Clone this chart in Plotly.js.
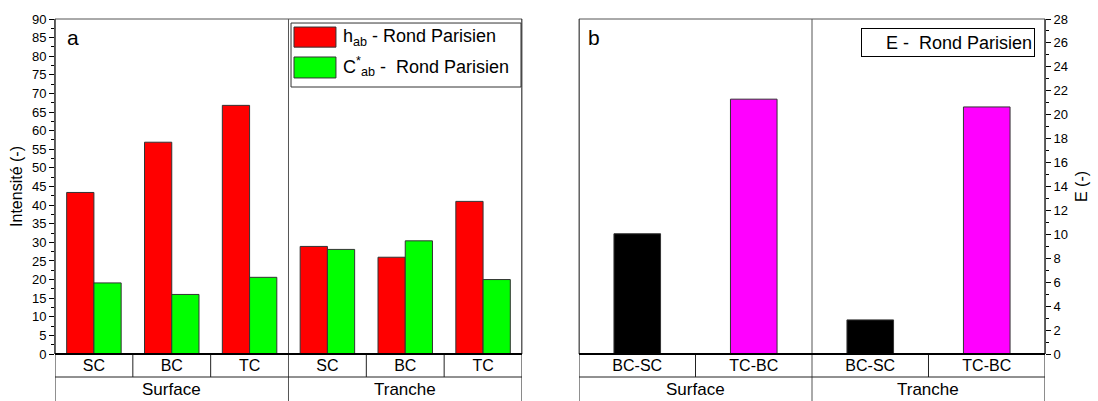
<!DOCTYPE html>
<html>
<head>
<meta charset="utf-8">
<script src="https://cdn.plot.ly/plotly-3.0.1.min.js"></script>
<style>html,body{margin:0;padding:0;background:#fff;}#chart{width:1098px;height:401px;}</style>
</head>
<body>
<div id="chart"></div>
<script>
// ---- data ----
const groups = ['Surface', 'Tranche'];
const samples = ['SC', 'BC', 'TC'];
const hSurface = [43.4, 56.9, 66.8];
const hTranche = [28.9, 26.0, 41.0];
const cSurface = [19.1, 16.0, 20.6];
const cTranche = [28.1, 30.4, 20.0];
const diffLabels = ['BC-SC', 'TC-BC'];
const eSurface = [10.05, 21.3];
const eTranche = [2.85, 20.65];
const diffColors = ['#000000', '#ff00ff'];
const seriesNames = ['h<sub>ab</sub> - Rond Parisien', 'C<sup>*</sup><sub>ab</sub> -\u00a0 Rond Parisien'];
const seriesColors = ['#ff0000', '#00ff00'];
const eName = 'E -\u00a0 Rond Parisien';

// ---- build positions ----
const leftX = [], leftText = [];
groups.forEach((g, gi) => samples.forEach((s, si) => { leftX.push(gi * samples.length + si); leftText.push(s); }));
const rightX = [], rightText = [], rightColors = [];
groups.forEach((g, gi) => diffLabels.forEach((d, di) => { rightX.push(gi * diffLabels.length + di); rightText.push(d); rightColors.push(diffColors[di]); }));

const FONT = 'Liberation Sans, Arial, sans-serif';
const nL = leftX.length, nR = rightX.length;

const traces = [
  {type: 'bar', name: seriesNames[0], x: leftX, y: hSurface.concat(hTranche),
   marker: {color: seriesColors[0], line: {color: '#333', width: 1}}, xaxis: 'x', yaxis: 'y', hoverinfo: 'y'},
  {type: 'bar', name: seriesNames[1], x: leftX, y: cSurface.concat(cTranche),
   marker: {color: seriesColors[1], line: {color: '#333', width: 1}}, xaxis: 'x', yaxis: 'y', hoverinfo: 'y'},
  {type: 'bar', name: eName, x: rightX, y: eSurface.concat(eTranche), width: 0.4,
   marker: {color: rightColors, line: {color: '#333', width: 1}}, xaxis: 'x2', yaxis: 'y2', hoverinfo: 'y'}
];

const d1 = [0, 0.4717], d2 = [0.5293, 1];
const rowY = -0.0687, botY = -0.15;
const shapes = [];
function line(xref, x0, y0, x1, y1, color, w) {
  shapes.push({type: 'line', xref: xref, yref: 'paper', x0: x0, x1: x1, y0: y0, y1: y1, line: {color: color, width: w}});
}
// frames
shapes.push({type: 'rect', xref: 'paper', yref: 'paper', x0: d1[0], x1: d1[1], y0: 0, y1: 1, line: {color: '#555', width: 1}, layer: 'above'});
shapes.push({type: 'rect', xref: 'paper', yref: 'paper', x0: d2[0], x1: d2[1], y0: 0, y1: 1, line: {color: '#555', width: 1}, layer: 'above'});
// left table
for (let i = 0; i <= nL; i++) {
  const xv = i - 0.5;
  const isGroup = (i % samples.length === 0);
  line('x', xv, isGroup ? 1 : 0, xv, isGroup ? botY : rowY, isGroup && i !== 0 && i !== nL ? '#555' : '#222', 1);
}
line('x', -0.5, rowY, nL - 0.5, rowY, '#222', 1);
line('x', -0.5, 0, nL - 0.5, 0, '#000', 2);
// right table
for (let i = 0; i <= nR; i++) {
  const xv = i - 0.5;
  const isGroup = (i % diffLabels.length === 0);
  line('x2', xv, isGroup ? 1 : 0, xv, isGroup ? botY : rowY, isGroup && i !== 0 && i !== nR ? '#555' : '#222', 1);
}
line('x2', -0.5, rowY, nR - 0.5, rowY, '#222', 1);
line('x2', -0.5, 0, nR - 0.5, 0, '#000', 2);

// custom legend (large swatches, as in the reference)
shapes.push({type: 'rect', xref: 'paper', yref: 'paper', x0: 0.2384, x1: 0.4707, y0: 0.797, y1: 0.988, line: {color: '#333', width: 1}, fillcolor: '#fff', layer: 'above'});
const swY = [[0.916, 0.976], [0.824, 0.8866]];
const txtY = [0.946, 0.857];
const annotations = [];
seriesNames.forEach((nm, i) => {
  shapes.push({type: 'rect', xref: 'paper', yref: 'paper', x0: 0.2414, x1: 0.2838, y0: swY[i][0], y1: swY[i][1], line: {color: '#333', width: 1}, fillcolor: seriesColors[i], layer: 'above'});
  annotations.push({xref: 'paper', yref: 'paper', x: 0.2889, y: txtY[i], xanchor: 'left', yanchor: 'middle', text: nm, showarrow: false, font: {family: FONT, size: 18, color: '#000'}});
});

groups.forEach((g, gi) => {
  annotations.push({xref: 'x', yref: 'paper', x: gi * samples.length + (samples.length - 1) / 2, y: -0.107, text: g, showarrow: false, font: {family: FONT, size: 17, color: '#000'}, yanchor: 'middle'});
  annotations.push({xref: 'x2', yref: 'paper', x: gi * diffLabels.length + (diffLabels.length - 1) / 2, y: -0.107, text: g, showarrow: false, font: {family: FONT, size: 17, color: '#000'}, yanchor: 'middle'});
});
annotations.push({xref: 'paper', yref: 'paper', x: 0.01, y: 0.985, xanchor: 'left', yanchor: 'top', text: 'a', showarrow: false, font: {family: FONT, size: 21, color: '#000'}});
annotations.push({xref: 'paper', yref: 'paper', x: 0.536, y: 0.985, xanchor: 'left', yanchor: 'top', text: 'b', showarrow: false, font: {family: FONT, size: 21, color: '#000'}});
annotations.push({xref: 'paper', yref: 'paper', x: 0.99, y: 0.973, xanchor: 'right', yanchor: 'top', text: eName, showarrow: false,
  width: 168, height: 23, align: 'right', bordercolor: '#000', borderwidth: 1, borderpad: 2, bgcolor: '#fff', font: {family: FONT, size: 18, color: '#000'}});

const tickFont = {family: FONT, size: 13, color: '#000'};
const layout = {
  width: 1098, height: 401,
  margin: {l: 55, r: 53, t: 19, b: 47},
  paper_bgcolor: '#fff', plot_bgcolor: '#fff',
  font: {family: FONT, color: '#000'},
  barmode: 'group', bargap: 0.3, bargroupgap: 0,
  showlegend: false,
  xaxis: {domain: d1, range: [-0.5, nL - 0.5], tickvals: leftX, ticktext: leftText, ticks: '', showgrid: false, zeroline: false,
          showline: false, tickfont: {family: FONT, size: 16, color: '#000'}, fixedrange: true},
  yaxis: {domain: [0, 1], range: [0, 90], dtick: 5, ticks: 'outside', ticklen: 5, tickcolor: '#000', showgrid: false, zeroline: false,
          showline: true, linecolor: '#555', linewidth: 1, tickfont: tickFont,
          minor: {dtick: 2.5, ticks: 'outside', ticklen: 3, tickcolor: '#000'},
          title: {text: 'Intensité (-)', font: {family: FONT, size: 16, color: '#000'}, standoff: 5}},
  xaxis2: {domain: d2, anchor: 'y2', range: [-0.5, nR - 0.5], tickvals: rightX, ticktext: rightText, ticks: '', showgrid: false, zeroline: false,
           showline: false, tickfont: {family: FONT, size: 16, color: '#000'}, fixedrange: true},
  yaxis2: {domain: [0, 1], anchor: 'x2', side: 'right', range: [0, 28], dtick: 2, ticks: 'outside', ticklen: 5, tickcolor: '#000', showgrid: false, zeroline: false,
           showline: true, linecolor: '#555', linewidth: 1, tickfont: tickFont,
           minor: {dtick: 1, ticks: 'outside', ticklen: 3, tickcolor: '#000'},
           title: {text: 'E (-)', font: {family: FONT, size: 16, color: '#000'}, standoff: 8}},
  shapes: shapes,
  annotations: annotations
};

Plotly.newPlot('chart', traces, layout, {displayModeBar: false, staticPlot: true});
</script>
</body>
</html>
